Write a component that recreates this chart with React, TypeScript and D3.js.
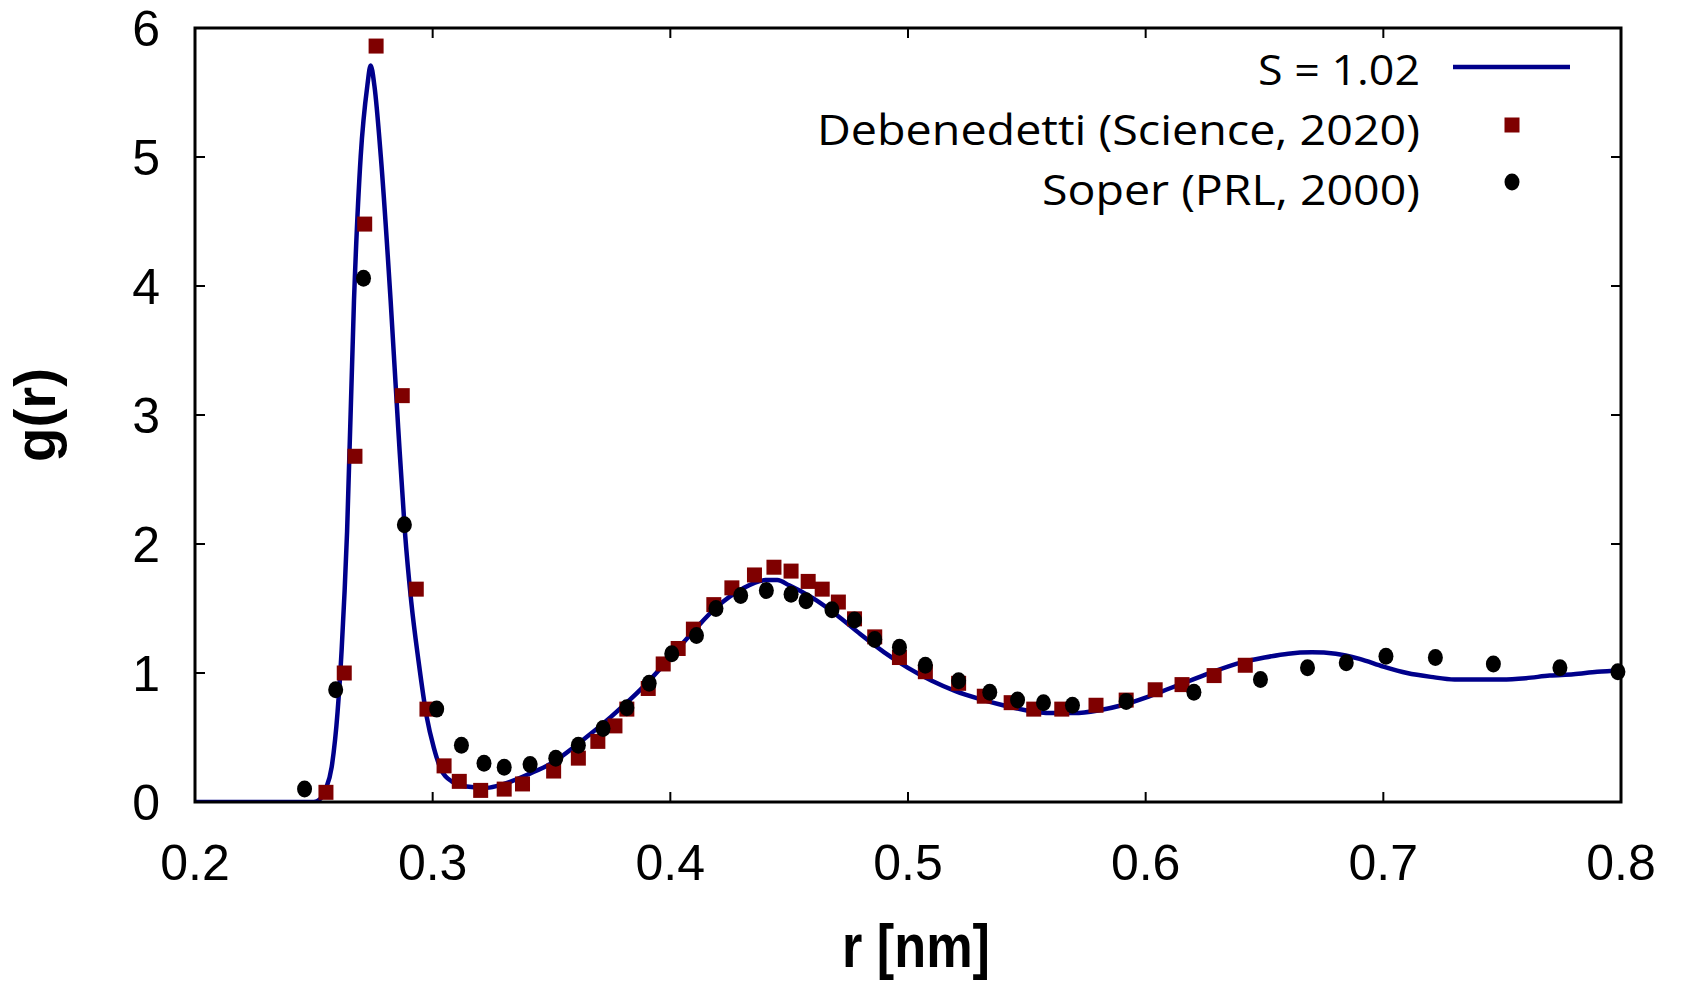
import React from "react";
import * as d3 from "d3";

const W = 1682;
const H = 984;

const xTicks = [0.2, 0.3, 0.4, 0.5, 0.6, 0.7, 0.8];
const yTicks = [0, 1, 2, 3, 4, 5, 6];

// S = 1.02 model curve
const lineR = [0.2, 0.25, 0.2525, 0.255, 0.2575, 0.26, 0.2617, 0.264, 0.2669, 0.2697, 0.2725, 0.2739, 0.2755, 0.2782, 0.2823, 0.2855, 0.2883, 0.291, 0.294, 0.2975, 0.3005, 0.3031, 0.308, 0.3143, 0.3227, 0.33, 0.3409, 0.35, 0.3632, 0.375, 0.3885, 0.4, 0.41, 0.42, 0.43, 0.44, 0.445, 0.45, 0.46, 0.47, 0.48, 0.49, 0.5, 0.51, 0.52, 0.53, 0.54, 0.55, 0.56, 0.57, 0.58, 0.59, 0.6, 0.61, 0.62, 0.63, 0.64, 0.65, 0.66, 0.67, 0.68, 0.69, 0.7, 0.71, 0.72, 0.73, 0.74, 0.75, 0.76, 0.77, 0.78, 0.79, 0.8];
const lineG = [0, 0, 0.02, 0.1, 0.27, 0.7, 1.18, 2.1, 3.89, 5.0, 5.55, 5.71, 5.55, 5.0, 3.89, 2.9, 2.1, 1.55, 1.1, 0.66, 0.42, 0.27, 0.16, 0.12, 0.11, 0.14, 0.22, 0.3, 0.48, 0.66, 0.89, 1.12, 1.33, 1.52, 1.65, 1.72, 1.72, 1.68, 1.58, 1.45, 1.3, 1.16, 1.04, 0.94, 0.86, 0.8, 0.75, 0.71, 0.69, 0.69, 0.71, 0.75, 0.81, 0.88, 0.95, 1.02, 1.08, 1.12, 1.15, 1.16, 1.15, 1.11, 1.05, 1.0, 0.97, 0.95, 0.95, 0.95, 0.96, 0.98, 0.99, 1.01, 1.02];

// Debenedetti (Science, 2020)
const debR = [0.2551, 0.2628, 0.2673, 0.2714, 0.2762, 0.2872, 0.2931, 0.2976, 0.3048, 0.3112, 0.3202, 0.3301, 0.3378, 0.3509, 0.3613, 0.3695, 0.3767, 0.3817, 0.3907, 0.397, 0.4033, 0.4097, 0.4183, 0.4259, 0.4354, 0.4436, 0.4508, 0.458, 0.4639, 0.4707, 0.4775, 0.486, 0.4964, 0.5073, 0.5213, 0.5321, 0.5434, 0.5529, 0.5647, 0.5791, 0.5918, 0.604, 0.6153, 0.6288, 0.6419];
const debG = [0.075, 1.0, 2.68, 4.48, 5.86, 3.15, 1.65, 0.72, 0.28, 0.16, 0.09, 0.1, 0.14, 0.24, 0.34, 0.47, 0.59, 0.72, 0.88, 1.07, 1.19, 1.34, 1.53, 1.66, 1.76, 1.82, 1.79, 1.71, 1.65, 1.55, 1.42, 1.28, 1.12, 1.01, 0.92, 0.82, 0.77, 0.72, 0.72, 0.75, 0.79, 0.87, 0.91, 0.98, 1.06];

// Soper (PRL, 2000)
const sopR = [0.2461, 0.2592, 0.2709, 0.2881, 0.3017, 0.3121, 0.3216, 0.3301, 0.341, 0.3518, 0.3613, 0.3717, 0.3817, 0.3911, 0.4006, 0.411, 0.4192, 0.4296, 0.4404, 0.4508, 0.4571, 0.468, 0.4775, 0.486, 0.4964, 0.5073, 0.5213, 0.5344, 0.5461, 0.557, 0.5692, 0.5918, 0.6203, 0.6483, 0.6681, 0.6844, 0.7011, 0.7219, 0.7463, 0.7743, 0.7987];
const sopG = [0.1, 0.87, 4.06, 2.15, 0.72, 0.44, 0.3, 0.27, 0.29, 0.34, 0.44, 0.57, 0.73, 0.92, 1.15, 1.29, 1.5, 1.6, 1.64, 1.61, 1.56, 1.49, 1.41, 1.26, 1.2, 1.06, 0.94, 0.85, 0.79, 0.77, 0.75, 0.78, 0.85, 0.95, 1.04, 1.08, 1.13, 1.12, 1.07, 1.04, 1.01];

const legendLabels = ["S = 1.02", "Debenedetti (Science, 2020)", "Soper (PRL, 2000)"];
const legendWidths = [162, 603, 378];

const LEFT = 195, RIGHT = 1621, TOP = 28, BOTTOM = 802;

export default function App() {
  const x = d3.scaleLinear().domain([0.2, 0.8]).range([LEFT, RIGHT]);
  const y = d3.scaleLinear().domain([0, 6]).range([BOTTOM, TOP]);
  const linePts: [number, number][] = lineR.map((r, i) => [r, lineG[i]]);
  const path = d3
    .line<[number, number]>()
    .x((d) => x(d[0]))
    .y((d) => y(d[1]))
    .curve(d3.curveMonotoneX)(linePts) as string;

  const tickFont = "'Liberation Sans', Arial, sans-serif";
  const legFont = "'Open Sans', 'Noto Sans', sans-serif";
  const sq = 15;

  return (
    <svg
      width={W}
      height={H}
      style={{ position: "absolute", left: 0, top: 0, background: "#fff" }}
    >
      <rect x={0} y={0} width={W} height={H} fill="#fff" />
      <defs>
        <clipPath id="plotclip">
          <rect x={LEFT} y={TOP - 20} width={RIGHT - LEFT} height={BOTTOM - TOP + 20} />
        </clipPath>
      </defs>

      {/* ticks */}
      {xTicks.map((t) => (
        <g key={"xt" + t}>
          <line x1={x(t)} x2={x(t)} y1={BOTTOM} y2={BOTTOM - 10} stroke="#000" strokeWidth={2} />
          <line x1={x(t)} x2={x(t)} y1={TOP} y2={TOP + 10} stroke="#000" strokeWidth={2} />
          <text
            x={x(t)}
            y={880}
            textAnchor="middle"
            fontFamily={tickFont}
            fontSize={50}
            fill="#000"
          >
            {t.toFixed(1)}
          </text>
        </g>
      ))}
      {yTicks.map((t) => (
        <g key={"yt" + t}>
          <line x1={LEFT} x2={LEFT + 10} y1={y(t)} y2={y(t)} stroke="#000" strokeWidth={2} />
          <line x1={RIGHT} x2={RIGHT - 10} y1={y(t)} y2={y(t)} stroke="#000" strokeWidth={2} />
          <text
            x={160}
            y={y(t)}
            dy="0.36em"
            textAnchor="end"
            fontFamily={tickFont}
            fontSize={50}
            fill="#000"
          >
            {t}
          </text>
        </g>
      ))}

      {/* data */}
      <g clipPath="url(#plotclip)">
        <path d={path} fill="none" stroke="#00008b" strokeWidth={4.5} strokeLinejoin="round" />
      </g>
      {debR.map((r, i) => (
        <rect
          key={"d" + i}
          x={x(r) - sq / 2}
          y={y(debG[i]) - sq / 2}
          width={sq}
          height={sq}
          fill="#7f0000"
        />
      ))}
      {sopR.map((r, i) => (
        <ellipse key={"s" + i} cx={x(r)} cy={y(sopG[i])} rx={7.5} ry={8.5} fill="#000" />
      ))}

      {/* frame */}
      <rect
        x={LEFT}
        y={TOP}
        width={RIGHT - LEFT}
        height={BOTTOM - TOP}
        fill="none"
        stroke="#000"
        strokeWidth={3}
      />

      {/* legend */}
      {legendLabels.map((l, i) => (
        <text
          key={"l" + i}
          x={1420}
          y={85 + i * 60}
          textAnchor="end"
          fontFamily={legFont}
          fontSize={42}
          textLength={legendWidths[i]}
          lengthAdjust="spacingAndGlyphs"
          fill="#000"
        >
          {l}
        </text>
      ))}
      <line x1={1453} x2={1570} y1={67} y2={67} stroke="#00008b" strokeWidth={4.5} />
      <rect x={1512 - sq / 2} y={125 - sq / 2} width={sq} height={sq} fill="#7f0000" />
      <ellipse cx={1512} cy={182} rx={7.5} ry={8.5} fill="#000" />

      {/* axis labels */}
      <text
        x={916}
        y={967}
        textAnchor="middle"
        fontFamily={tickFont}
        fontWeight="bold"
        fontSize={62}
        textLength={148}
        lengthAdjust="spacingAndGlyphs"
        fill="#000"
      >
        r [nm]
      </text>
      <text
        transform={`translate(55, ${(TOP + BOTTOM) / 2}) rotate(-90)`}
        textAnchor="middle"
        fontFamily={tickFont}
        fontWeight="bold"
        fontSize={58}
        textLength={94}
        lengthAdjust="spacingAndGlyphs"
        fill="#000"
      >
        g(r)
      </text>
    </svg>
  );
}
